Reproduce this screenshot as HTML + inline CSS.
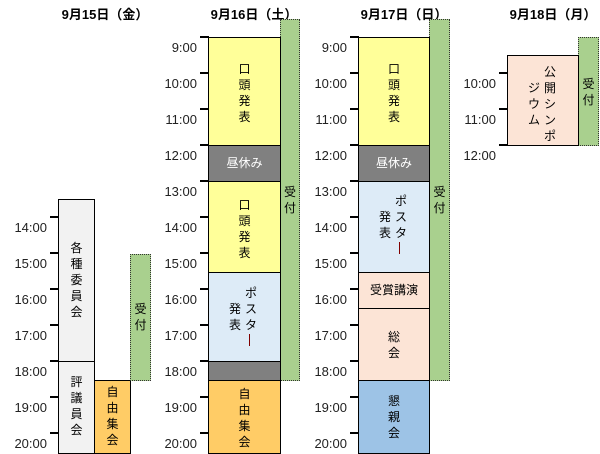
<!DOCTYPE html>
<html><head><meta charset="utf-8"><style>
body{margin:0;width:600px;height:454px;background:#fff;position:relative;overflow:hidden;font-family:"Liberation Sans","Noto Sans CJK JP",sans-serif;font-size:12px;color:#000}
div{position:absolute;box-sizing:border-box}
.h{font-size:13px;font-weight:bold;top:4px;width:130px;text-align:center;white-space:nowrap}
.t{width:44px;text-align:right;font-size:13px;color:#222}
.k{height:2px;background:#000;width:9px}
.b{border:1.5px solid #000}
.v{text-align:center;line-height:16px;width:100%}
.g{background:#a9d08e;border:1px dotted #333}
.bar{width:1px;height:12px;background:#800000}
</style></head><body>
<div class="h" style="left:40px">9月15日（金）</div>
<div class="h" style="left:189px">9月16日（土）</div>
<div class="h" style="left:339px">9月17日（日）</div>
<div class="h" style="left:488px">9月18日（月）</div>

<!-- day1 times -->
<div class="t" style="left:3px;top:220px">14:00</div>
<div class="t" style="left:3px;top:256px">15:00</div>
<div class="t" style="left:3px;top:292px">16:00</div>
<div class="t" style="left:3px;top:328px">17:00</div>
<div class="t" style="left:3px;top:364px">18:00</div>
<div class="t" style="left:3px;top:400px">19:00</div>
<div class="t" style="left:3px;top:436px">20:00</div>
<div class="k" style="left:50px;top:216px"></div>
<div class="k" style="left:50px;top:252px"></div>
<div class="k" style="left:50px;top:288px"></div>
<div class="k" style="left:50px;top:324px"></div>
<div class="k" style="left:50px;top:360px"></div>
<div class="k" style="left:50px;top:396px"></div>
<div class="k" style="left:50px;top:432px"></div>
<div class="b" style="left:58px;top:199px;width:37px;height:163px;background:#f2f2f2"><div class="v" style="top:40px">各<br>種<br>委<br>員<br>会</div></div>
<div class="b" style="left:58px;top:361px;width:37px;height:93px;background:#f2f2f2"><div class="v" style="top:12px">評<br>議<br>員<br>会</div></div>
<div class="b" style="left:94px;top:380px;width:37px;height:74px;background:#ffcc66"><div class="v" style="top:3px">自<br>由<br>集<br>会</div></div>
<div class="g" style="left:130px;top:254px;width:21px;height:127px"><div class="v" style="top:46px">受<br>付</div></div>

<!-- day2 -->
<div class="t" style="left:153px;top:40px">9:00</div>
<div class="t" style="left:153px;top:76px">10:00</div>
<div class="t" style="left:153px;top:112px">11:00</div>
<div class="t" style="left:153px;top:148px">12:00</div>
<div class="t" style="left:153px;top:184px">13:00</div>
<div class="t" style="left:153px;top:220px">14:00</div>
<div class="t" style="left:153px;top:256px">15:00</div>
<div class="t" style="left:153px;top:292px">16:00</div>
<div class="t" style="left:153px;top:328px">17:00</div>
<div class="t" style="left:153px;top:364px">18:00</div>
<div class="t" style="left:153px;top:400px">19:00</div>
<div class="t" style="left:153px;top:436px">20:00</div>
<div class="k" style="left:200px;top:36px"></div>
<div class="k" style="left:200px;top:72px"></div>
<div class="k" style="left:200px;top:108px"></div>
<div class="k" style="left:200px;top:144px"></div>
<div class="k" style="left:200px;top:180px"></div>
<div class="k" style="left:200px;top:216px"></div>
<div class="k" style="left:200px;top:252px"></div>
<div class="k" style="left:200px;top:288px"></div>
<div class="k" style="left:200px;top:324px"></div>
<div class="k" style="left:200px;top:360px"></div>
<div class="k" style="left:200px;top:396px"></div>
<div class="k" style="left:200px;top:432px"></div>
<div class="g" style="left:280px;top:19px;width:20px;height:362px"><div class="v" style="top:164px">受<br>付</div></div>
<div class="b" style="left:208px;top:37px;width:73px;height:109px;background:#ffff99"><div class="v" style="top:23px">口<br>頭<br>発<br>表</div></div>
<div class="b" style="left:208px;top:145px;width:73px;height:37px;background:#808080;color:#fff"><div class="v" style="top:9px">昼休み</div></div>
<div class="b" style="left:208px;top:181px;width:73px;height:92px;background:#ffff99"><div class="v" style="top:15px">口<br>頭<br>発<br>表</div></div>
<div class="b" style="left:208px;top:272px;width:73px;height:90px;background:#ddebf7"><div style="left:36px;top:12px;line-height:16px">ポ<br>ス<br>タ</div><div class="bar" style="left:40px;top:61px"></div><div style="left:20px;top:28px;line-height:16px">発<br>表</div></div>
<div class="b" style="left:208px;top:361px;width:73px;height:20px;background:#808080"></div>
<div class="b" style="left:208px;top:380px;width:73px;height:74px;background:#ffcc66"><div class="v" style="top:5px">自<br>由<br>集<br>会</div></div>

<!-- day3 -->
<div class="t" style="left:303px;top:40px">9:00</div>
<div class="t" style="left:303px;top:76px">10:00</div>
<div class="t" style="left:303px;top:112px">11:00</div>
<div class="t" style="left:303px;top:148px">12:00</div>
<div class="t" style="left:303px;top:184px">13:00</div>
<div class="t" style="left:303px;top:220px">14:00</div>
<div class="t" style="left:303px;top:256px">15:00</div>
<div class="t" style="left:303px;top:292px">16:00</div>
<div class="t" style="left:303px;top:328px">17:00</div>
<div class="t" style="left:303px;top:364px">18:00</div>
<div class="t" style="left:303px;top:400px">19:00</div>
<div class="t" style="left:303px;top:436px">20:00</div>
<div class="k" style="left:350px;top:36px"></div>
<div class="k" style="left:350px;top:72px"></div>
<div class="k" style="left:350px;top:108px"></div>
<div class="k" style="left:350px;top:144px"></div>
<div class="k" style="left:350px;top:180px"></div>
<div class="k" style="left:350px;top:216px"></div>
<div class="k" style="left:350px;top:252px"></div>
<div class="k" style="left:350px;top:288px"></div>
<div class="k" style="left:350px;top:324px"></div>
<div class="k" style="left:350px;top:360px"></div>
<div class="k" style="left:350px;top:396px"></div>
<div class="k" style="left:350px;top:432px"></div>
<div class="g" style="left:429px;top:19px;width:21px;height:362px"><div class="v" style="top:164px">受<br>付</div></div>
<div class="b" style="left:358px;top:37px;width:72px;height:109px;background:#ffff99"><div class="v" style="top:23px">口<br>頭<br>発<br>表</div></div>
<div class="b" style="left:358px;top:145px;width:72px;height:37px;background:#808080;color:#fff"><div class="v" style="top:9px">昼休み</div></div>
<div class="b" style="left:358px;top:181px;width:72px;height:92px;background:#ddebf7"><div style="left:36px;top:11px;line-height:16px">ポ<br>ス<br>タ</div><div class="bar" style="left:40px;top:60px"></div><div style="left:20px;top:27px;line-height:16px">発<br>表</div></div>
<div class="b" style="left:358px;top:272px;width:72px;height:37px;background:#fce4d6"><div class="v" style="top:9px">受賞講演</div></div>
<div class="b" style="left:358px;top:308px;width:72px;height:73px;background:#fce4d6"><div class="v" style="top:20px">総<br>会</div></div>
<div class="b" style="left:358px;top:380px;width:72px;height:74px;background:#9dc3e6"><div class="v" style="top:12px">懇<br>親<br>会</div></div>

<!-- day4 -->
<div class="t" style="left:452px;top:76px">10:00</div>
<div class="t" style="left:452px;top:112px">11:00</div>
<div class="t" style="left:452px;top:148px">12:00</div>
<div class="k" style="left:499px;top:72px"></div>
<div class="k" style="left:499px;top:108px"></div>
<div class="k" style="left:499px;top:144px"></div>
<div class="g" style="left:578px;top:37px;width:21px;height:109px"><div class="v" style="top:38px">受<br>付</div></div>
<div class="b" style="left:507px;top:55px;width:72px;height:91px;background:#fce4d6"><div style="left:36px;top:8px;line-height:16px">公<br>開<br>シ<br>ン<br>ポ</div><div style="left:20px;top:24px;line-height:16px">ジ<br>ウ<br>ム</div></div>
</body></html>
